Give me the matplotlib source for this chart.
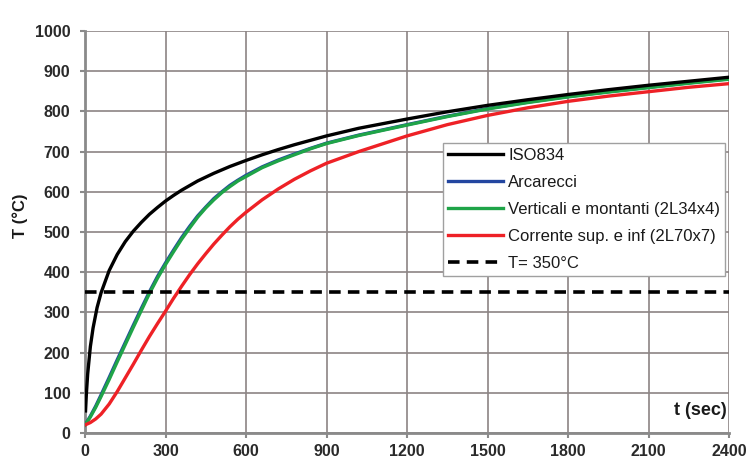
import matplotlib
matplotlib.use("Agg")
import matplotlib.pyplot as plt

# Standard fire curve ISO 834 (gas temperature)
t_iso = [2, 5, 10, 20, 30, 45, 60, 90, 120, 150, 180, 210, 240, 270, 300, 330, 360, 420, 480, 540,
         600, 660, 720, 780, 840, 900, 1020, 1200, 1350, 1500, 1650, 1800, 1950, 2100, 2250, 2400]
T_iso = [55, 96, 147, 215, 261, 312, 349, 404, 444, 476, 502, 524, 544, 561, 577, 591, 604, 627, 646, 663,
         678, 692, 705, 717, 728, 739, 758, 781, 799, 815, 829, 842, 854, 865, 875, 885]

# Steel member temperatures
t_steel = [0, 20, 40, 60, 90, 120, 150, 180, 210, 240, 270, 300, 330, 360, 390, 420, 450, 480, 510,
           540, 570, 600, 660, 720, 780, 840, 900, 1020, 1200, 1350, 1500, 1650, 1800, 1950, 2100,
           2250, 2400]
T_arcarecci = [20, 42, 67, 95, 138, 182, 225, 268, 310, 351, 389, 423, 455, 486, 514, 540, 562, 583,
               600, 616, 629, 641, 662, 679, 694, 708, 721, 741, 767, 788, 807, 823, 837, 849, 860,
               871, 881]
T_verticali = [20, 40, 64, 91, 133, 177, 220, 263, 305, 347, 385, 419, 451, 482, 510, 537, 560, 580,
               598, 613, 627, 638, 660, 677, 692, 707, 720, 740, 766, 787, 806, 822, 836, 848, 859,
               870, 880]
T_corrente = [20, 26, 35, 47, 72, 103, 137, 171, 206, 240, 272, 303, 335, 365, 394, 421, 446, 470,
              492, 513, 532, 549, 580, 607, 631, 652, 671, 700, 739, 767, 790, 809, 825, 838, 849,
              860, 869]

T_limit = 350

labels = ["ISO834", "Arcarecci", "Verticali e montanti (2L34x4)",
          "Corrente sup. e inf (2L70x7)", "T= 350°C"]
x_ticks = [0, 300, 600, 900, 1200, 1500, 1800, 2100, 2400]
y_ticks = [0, 100, 200, 300, 400, 500, 600, 700, 800, 900, 1000]

plt.rcParams["font.family"] = ["Liberation Sans", "DejaVu Sans"]

W, H = 751, 466
fig = plt.figure(figsize=(W / 100, H / 100), dpi=100)
ax = fig.add_axes([85 / W, 1 - 433 / H, (729 - 85) / W, (433 - 31) / H])

grid_c = "#8c8484"
ax.set_xlim(0, 2400)
ax.set_ylim(0, 1000)
ax.set_xticks(x_ticks)
ax.set_yticks(y_ticks)
ax.set_xticklabels([str(v) for v in x_ticks])
ax.set_yticklabels([str(v) for v in y_ticks])
ax.grid(True, color=grid_c, linewidth=1.2)
ax.set_axisbelow(True)
for side in ("top", "right"):
    ax.spines[side].set_visible(False)
for side in ("left", "bottom"):
    ax.spines[side].set_color("#8a8a8a")
    ax.spines[side].set_linewidth(2.0)
ax.tick_params(axis="both", direction="out", length=3.6, width=1.5, color="#8a8a8a",
               labelsize=11.5, labelcolor="#2a2a2a")
ax.tick_params(axis="y", pad=7)
ax.tick_params(axis="x", pad=4)
for lbl in ax.get_xticklabels() + ax.get_yticklabels():
    lbl.set_fontweight("bold")

lw = 2.4
ax.plot(t_iso, T_iso, color="#000000", lw=lw, label=labels[0], zorder=5)
ax.plot(t_steel, T_arcarecci, color="#2346a0", lw=lw, label=labels[1], zorder=3)
ax.plot(t_steel, T_verticali, color="#1fa448", lw=lw, label=labels[2], zorder=4)
ax.plot(t_steel, T_corrente, color="#ee2126", lw=lw, label=labels[3], zorder=4)
ax.plot([0, 2400], [T_limit, T_limit], color="#000000", lw=2.6,
        dashes=(3.2, 2.0), label=labels[4], zorder=6)

ax.text(2390, 57, "t (sec)", ha="right", va="center", fontsize=13,
        fontweight="bold", color="#1a1a1a")
fig.text(20 / W, 1 - 216 / H, "T (°C)", rotation=90, ha="center", va="center",
         fontsize=12, fontweight="bold", color="#1a1a1a")

leg = ax.legend(loc="upper left", bbox_to_anchor=(443 / W, 1 - 143 / H),
                bbox_transform=fig.transFigure, fontsize=12, frameon=True,
                fancybox=False, edgecolor="#a0a0a0", framealpha=1.0,
                handlelength=3.3, handletextpad=0.3, labelspacing=0.72,
                borderpad=0.3, borderaxespad=0)
leg.get_frame().set_linewidth(1.0)
for txt in leg.get_texts():
    txt.set_color("#1a1a1a")

fig.savefig("out.png", dpi=100, facecolor="white")
